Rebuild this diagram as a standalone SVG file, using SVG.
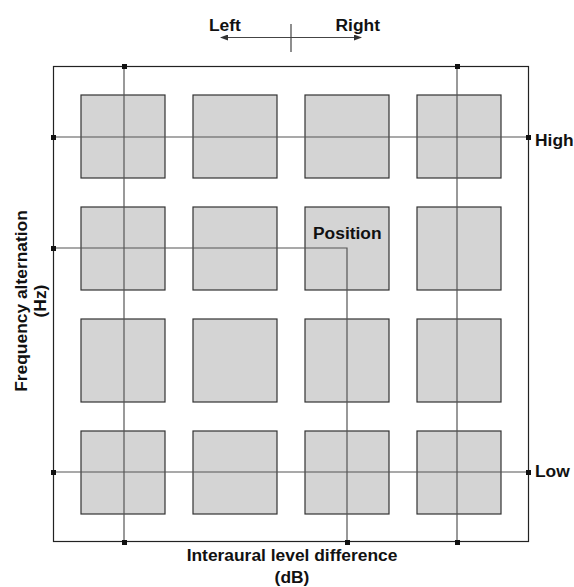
<svg xmlns="http://www.w3.org/2000/svg" width="574" height="587" viewBox="0 0 574 587">
<style>
.box{fill:#d4d4d4;stroke:#333;stroke-width:1.2}
.ln{fill:none;stroke:#555;stroke-width:1.2}
.dot{fill:#111}
.t{font-family:"Liberation Sans",Arial,sans-serif;font-weight:bold;font-size:17.4px;fill:#111}
</style>
<defs>
<marker id="ah" markerWidth="8" markerHeight="6" refX="7" refY="3" orient="auto-start-reverse" markerUnits="userSpaceOnUse">
<path d="M0,0 L8,3 L0,6 Z" fill="#333"/>
</marker>
</defs>
<rect width="574" height="587" fill="#fff"/>
<g id="frame">
<rect x="53.5" y="66.5" width="475" height="475" fill="none" stroke="#222" stroke-width="1.2"/>
</g>
<g id="boxes">
<rect id="b11" class="box" x="81" y="95" width="84" height="83"/>
<rect id="b12" class="box" x="193" y="95" width="84" height="83"/>
<rect id="b13" class="box" x="305" y="95" width="84" height="83"/>
<rect id="b14" class="box" x="417" y="95" width="84" height="83"/>
<rect id="b21" class="box" x="81" y="207" width="84" height="83"/>
<rect id="b22" class="box" x="193" y="207" width="84" height="83"/>
<rect id="b23" class="box" x="305" y="207" width="84" height="83"/>
<rect id="b24" class="box" x="417" y="207" width="84" height="83"/>
<rect id="b31" class="box" x="81" y="319" width="84" height="83"/>
<rect id="b32" class="box" x="193" y="319" width="84" height="83"/>
<rect id="b33" class="box" x="305" y="319" width="84" height="83"/>
<rect id="b34" class="box" x="417" y="319" width="84" height="83"/>
<rect id="b41" class="box" x="81" y="431" width="84" height="83"/>
<rect id="b42" class="box" x="193" y="431" width="84" height="83"/>
<rect id="b43" class="box" x="305" y="431" width="84" height="83"/>
<rect id="b44" class="box" x="417" y="431" width="84" height="83"/>
</g>
<g id="connectors">
<line class="ln" x1="53" y1="137" x2="528" y2="137"/>
<line class="ln" x1="53" y1="472" x2="528" y2="472"/>
<line class="ln" x1="124" y1="66" x2="124" y2="542"/>
<line class="ln" x1="457" y1="66" x2="457" y2="542"/>
<polyline class="ln" points="53,248 347,248 347,542"/>
<line x1="221" y1="37.5" x2="361" y2="37.5" stroke="#444" stroke-width="1.2" marker-start="url(#ah)" marker-end="url(#ah)"/>
<line x1="291" y1="24" x2="291" y2="52" stroke="#444" stroke-width="1.2"/>
</g>
<g id="points">
<rect class="dot" x="122" y="64" width="5" height="5"/>
<rect class="dot" x="455" y="64" width="5" height="5"/>
<rect class="dot" x="51" y="135" width="5" height="5"/>
<rect class="dot" x="51" y="246" width="5" height="5"/>
<rect class="dot" x="51" y="470" width="5" height="5"/>
<rect class="dot" x="526" y="135" width="5" height="5"/>
<rect class="dot" x="526" y="470" width="5" height="5"/>
<rect class="dot" x="122" y="540" width="5" height="5"/>
<rect class="dot" x="345" y="540" width="5" height="5"/>
<rect class="dot" x="455" y="540" width="5" height="5"/>
</g>
<g id="labels">
<text class="t" x="209" y="31">Left</text>
<text class="t" x="380" y="31" text-anchor="end">Right</text>
<text class="t" x="535" y="146">High</text>
<text class="t" x="535" y="477">Low</text>
<text class="t" x="313" y="239">Position</text>
<text class="t" x="292" y="561" text-anchor="middle">Interaural level difference</text>
<text class="t" x="292" y="583" text-anchor="middle">(dB)</text>
<text class="t" transform="translate(27,301) rotate(-90)" text-anchor="middle">Frequency alternation</text>
<text class="t" transform="translate(46,301) rotate(-90)" text-anchor="middle">(Hz)</text>
</g>
</svg>
